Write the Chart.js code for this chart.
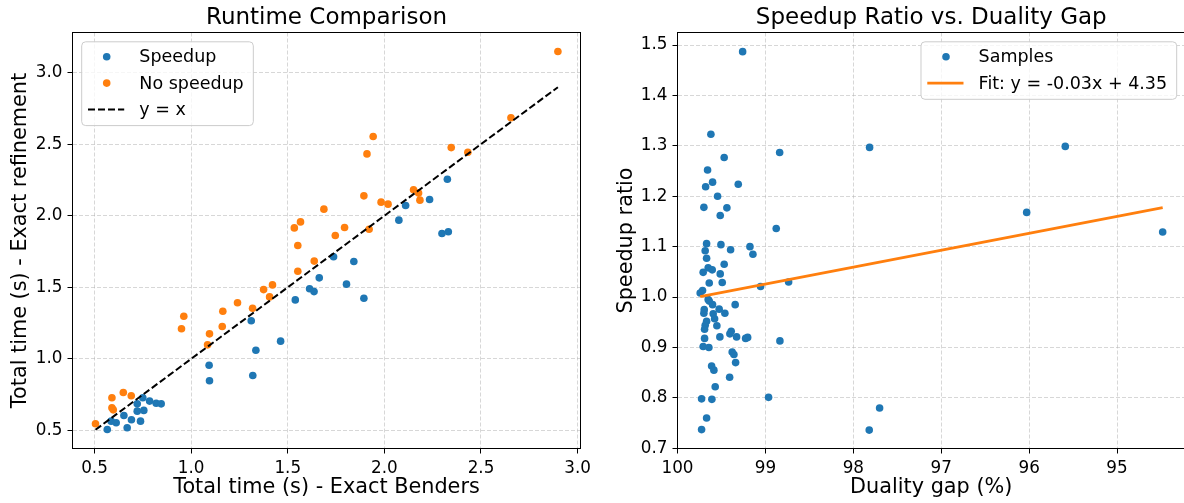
<!DOCTYPE html>
<html>
<head>
<meta charset="utf-8">
<script src="https://cdn.jsdelivr.net/npm/chart.js@4.4.1/dist/chart.umd.min.js"></script>
<style>
  html, body { margin: 0; padding: 0; background: #fff; overflow: hidden; }
  body { width: 1184px; height: 503px; position: relative; }
  #left { position: absolute; left: 0; top: 0; }
  #right { position: absolute; left: 592px; top: 0; }
</style>
</head>
<body>
<canvas id="left" width="592" height="503"></canvas>
<canvas id="right" width="600" height="503"></canvas>
<script>
// --- data: left panel (runtime comparison) ---
const speedupX = [0.566, 0.586, 0.612, 0.652, 0.669, 0.691, 0.738, 0.721, 0.755, 0.721, 0.750, 0.785,
    0.819, 0.845, 1.093, 1.095, 1.319, 1.335, 1.311, 1.463, 1.539, 1.613, 1.636, 1.663, 1.737, 1.804,
    1.842, 1.894, 2.075, 2.110, 2.234, 2.298, 2.331, 2.326];
const speedupY = [0.507, 0.565, 0.554, 0.605, 0.519, 0.575, 0.565, 0.635, 0.640, 0.686, 0.728, 0.705,
    0.690, 0.686, 0.956, 0.847, 0.884, 1.060, 1.266, 1.124, 1.412, 1.490, 1.470, 1.566, 1.713, 1.522,
    1.680, 1.424, 1.969, 2.071, 2.113, 1.876, 1.888, 2.255];
const noSpeedupX = [0.505, 0.590, 0.590, 0.597, 0.649, 0.690, 0.950, 0.962, 1.085, 1.095, 1.161, 1.164,
    1.240, 1.318, 1.375, 1.406, 1.421, 1.552, 1.534, 1.566, 1.552, 1.637, 1.687, 1.746, 1.794, 1.894,
    1.910, 1.942, 1.921, 1.983, 2.019, 2.151, 2.177, 2.184, 2.346, 2.432, 2.655, 2.898];
const noSpeedupY = [0.547, 0.728, 0.658, 0.644, 0.765, 0.742, 1.210, 1.298, 1.098, 1.175, 1.226, 1.333,
    1.392, 1.354, 1.484, 1.433, 1.517, 1.612, 1.915, 1.957, 1.792, 1.683, 2.046, 1.862, 1.918, 2.139,
    2.432, 2.553, 1.906, 2.095, 2.081, 2.181, 2.158, 2.109, 2.476, 2.443, 2.685, 3.147];
const diagRange = [0.505, 2.898];
const runtimeTicks = [0.5, 1.0, 1.5, 2.0, 2.5, 3.0];

// --- data: right panel (speedup ratio vs duality gap) ---
const gapX = [99.259, 99.620, 99.469, 98.838, 99.658, 99.601, 99.680, 99.309, 99.544, 99.700, 99.438,
    99.514, 98.877, 99.669, 99.506, 99.176, 99.396, 99.685, 99.142, 99.669, 99.469, 99.651, 99.605,
    99.708, 99.514, 99.639, 99.491, 99.715, 99.742, 99.055, 98.736, 99.651, 99.639, 99.601, 99.344,
    99.526, 99.696, 99.700, 99.594, 99.461, 99.578, 99.669, 99.685, 99.552, 99.692, 99.389, 99.404,
    99.518, 99.328, 99.225, 99.202, 99.692, 98.835, 99.708, 99.643, 99.378, 99.358, 99.339, 99.612,
    99.586, 99.407, 99.571, 99.726, 99.609, 98.964, 99.669, 99.726, 97.815, 95.589, 96.028, 94.481,
    97.701, 97.819];
const ratioY = [1.487, 1.323, 1.277, 1.287, 1.252, 1.228, 1.219, 1.224, 1.200, 1.178, 1.177, 1.162,
    1.136, 1.106, 1.104, 1.100, 1.094, 1.092, 1.085, 1.077, 1.065, 1.058, 1.054, 1.049, 1.046, 1.028,
    1.029, 1.013, 1.008, 1.021, 1.030, 0.995, 0.992, 0.985, 0.985, 0.976, 0.975, 0.968, 0.967, 0.968,
    0.957, 0.952, 0.944, 0.943, 0.936, 0.932, 0.927, 0.921, 0.921, 0.918, 0.920, 0.918, 0.913, 0.902,
    0.900, 0.891, 0.886, 0.870, 0.863, 0.855, 0.841, 0.822, 0.798, 0.797, 0.801, 0.760, 0.737, 1.297,
    1.299, 1.168, 1.129, 0.780, 0.736];
const fitSlope = -0.0336;
const fitIntercept = 4.352;
const gapTicks = [95, 96, 97, 98, 99, 100];
const ratioTicks = [0.7, 0.8, 0.9, 1.0, 1.1, 1.2, 1.3, 1.4, 1.5];

const BLUE = "#1f77b4";
const ORANGE = "#ff7f0e";
const FONT = "'DejaVu Sans', sans-serif";
const GRID = "rgba(176, 176, 176, 0.5)";

const toPoints = (xs, ys) => xs.map((x, i) => ({ x: x, y: ys[i] }));

// axis with fixed ticks, matplotlib-like look.
// size = fixed box height (x) or width (y), so the plot area lands where it should
function makeAxis(min, max, tickValues, digits, title, titlePad, size, horizontal, reverse) {
    return {
        type: "linear",
        min: min,
        max: max,
        reverse: !!reverse,
        afterBuildTicks: (scale) => {
            scale.ticks = tickValues.map((v) => ({ value: v }));
        },
        afterFit: (scale) => {
            // no extra room for overhanging edge labels
            scale.paddingLeft = 0;
            scale.paddingRight = 0;
            scale.paddingTop = 0;
            scale.paddingBottom = 0;
            if (horizontal) scale.height = size;
            else scale.width = size;
        },
        ticks: {
            callback: (v) => Number(v).toFixed(digits),
            color: "#000",
            font: { family: FONT, size: 16.8 },
            padding: 5,
            autoSkip: false,
            maxRotation: 0,
        },
        grid: { color: GRID, lineWidth: 1, tickColor: "#000", tickLength: 5, tickWidth: 1, tickBorderDash: [] },
        border: { display: false, dash: [4, 2] },
        title: { display: true, text: title, color: "#000", font: { family: FONT, size: 20.8 }, padding: titlePad },
    };
}

// spines all round the plot area
const framePlugin = {
    id: "frame",
    afterDatasetsDraw(chart) {
        const { ctx, chartArea: a } = chart;
        ctx.save();
        ctx.strokeStyle = "#000";
        ctx.lineWidth = 1;
        ctx.strokeRect(a.left, a.top, a.right - a.left, a.bottom - a.top);
        ctx.restore();
    },
};

// title over the axes, baseline-aligned like matplotlib
const axTitlePlugin = {
    id: "axTitle",
    afterDraw(chart, args, o) {
        const { ctx, chartArea: a } = chart;
        ctx.save();
        ctx.font = "23px " + FONT;
        ctx.fillStyle = "#000";
        ctx.textAlign = "center";
        ctx.textBaseline = "alphabetic";
        ctx.fillText(o.text, (a.left + a.right) / 2, a.top - 8.5);
        ctx.restore();
    },
};

// legend box drawn inside the plot area
const boxLegendPlugin = {
    id: "boxLegend",
    afterDraw(chart, args, o) {
        const { ctx, chartArea: a } = chart;
        ctx.save();
        ctx.font = "17.5px " + FONT;
        const textW = Math.max(...o.items.map((it) => ctx.measureText(it.label).width));
        const w = 57.6 + textW + 9.6;
        const h = 15 + 26.3 * (o.items.length - 1) + 16.2;
        const x = o.anchor === "left" ? a.left + 9.2 : a.right - 8.3 - w;
        const y = a.top + 9.3;

        ctx.beginPath();
        ctx.roundRect(x, y, w, h, 4);
        ctx.fillStyle = "rgba(255, 255, 255, 0.8)";
        ctx.fill();
        ctx.strokeStyle = "#cccccc";
        ctx.lineWidth = 1;
        ctx.stroke();

        o.items.forEach((it, i) => {
            const ry = y + 15 + i * 26.3;
            if (it.kind === "dot") {
                ctx.beginPath();
                ctx.arc(x + 25, ry, 3.8, 0, Math.PI * 2);
                ctx.fillStyle = it.color;
                ctx.fill();
            } else {
                ctx.beginPath();
                ctx.setLineDash(it.kind === "dash" ? [7, 3] : []);
                ctx.strokeStyle = it.color;
                ctx.lineWidth = it.kind === "dash" ? 2 : 2.8;
                ctx.moveTo(x + 6.3, ry);
                ctx.lineTo(x + 42.5, ry);
                ctx.stroke();
                ctx.setLineDash([]);
            }
            ctx.fillStyle = "#000";
            ctx.textAlign = "left";
            ctx.textBaseline = "middle";
            ctx.fillText(it.label, x + 57.6, ry + 1);
        });
        ctx.restore();
    },
};

// --- left chart ---
new Chart(document.getElementById("left").getContext("2d"), {
    type: "scatter",
    data: {
        datasets: [
            { label: "Speedup", data: toPoints(speedupX, speedupY), backgroundColor: BLUE,
              pointRadius: 3.8, borderWidth: 0, order: 3 },
            { label: "No speedup", data: toPoints(noSpeedupX, noSpeedupY), backgroundColor: ORANGE,
              pointRadius: 3.8, borderWidth: 0, order: 2 },
            { label: "y = x", type: "line", data: toPoints(diagRange, diagRange), borderColor: "#000",
              borderWidth: 2, borderDash: [7, 3], pointRadius: 0, fill: false, order: 1 },
        ],
    },
    options: {
        responsive: false,
        animation: false,
        events: [],
        layout: { padding: { top: 32.5, right: 11.5, left: 0, bottom: 0 } },
        plugins: {
            legend: { display: false },
            tooltip: { enabled: false },
            axTitle: { text: "Runtime Comparison" },
            boxLegend: {
                anchor: "left",
                items: [
                    { label: "Speedup", kind: "dot", color: BLUE },
                    { label: "No speedup", kind: "dot", color: ORANGE },
                    { label: "y = x", kind: "dash", color: "#000" },
                ],
            },
        },
        scales: {
            x: makeAxis(0.386, 3.015, runtimeTicks, 1, "Total time (s) - Exact Benders",
                { top: 0, bottom: 2.5 }, 54.5, true),
            y: makeAxis(0.374, 3.28, runtimeTicks, 1, "Total time (s) - Exact refinement",
                { top: 8.5, bottom: 0 }, 72.5, false),
        },
    },
    plugins: [framePlugin, axTitlePlugin, boxLegendPlugin],
});

// --- right chart ---
const fitRange = [Math.max(...gapX), Math.min(...gapX)];
const fitPoints = fitRange.map((x) => ({ x: x, y: fitSlope * x + fitIntercept }));

new Chart(document.getElementById("right").getContext("2d"), {
    type: "scatter",
    data: {
        datasets: [
            { label: "Samples", data: toPoints(gapX, ratioY), backgroundColor: BLUE,
              pointRadius: 3.8, borderWidth: 0, order: 2 },
            { label: "Fit: y = -0.03x + 4.35", type: "line", data: fitPoints, borderColor: ORANGE,
              borderWidth: 2.8, pointRadius: 0, fill: false, order: 1 },
        ],
    },
    options: {
        responsive: false,
        animation: false,
        events: [],
        layout: { padding: { top: 32.5, right: 7, left: 0, bottom: 0 } },
        plugins: {
            legend: { display: false },
            tooltip: { enabled: false },
            axTitle: { text: "Speedup Ratio vs. Duality Gap" },
            boxLegend: {
                anchor: "right",
                items: [
                    { label: "Samples", kind: "dot", color: BLUE },
                    { label: "Fit: y = -0.03x + 4.35", kind: "line", color: ORANGE },
                ],
            },
        },
        scales: {
            x: makeAxis(94.227, 100.0, gapTicks, 0, "Duality gap (%)",
                { top: 0, bottom: 2.5 }, 54.5, true, true),
            y: makeAxis(0.6995, 1.525, ratioTicks, 1, "Speedup ratio",
                { top: 22.5, bottom: 0 }, 85.5, false),
        },
    },
    plugins: [framePlugin, axTitlePlugin, boxLegendPlugin],
});
</script>
</body>
</html>
